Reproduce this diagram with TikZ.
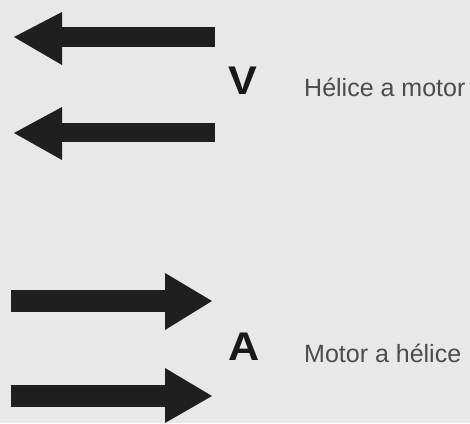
\documentclass[tikz,border=0pt]{standalone}
\usepackage{fontspec}
\setmainfont{Liberation Sans}
\begin{document}
\begin{tikzpicture}[x=1pt,y=-1pt,
  arr/.style={fill=black!88,draw=none},
  big/.style={font=\fontsize{40}{40}\selectfont\bfseries,text=black!90,inner sep=0pt,xscale=1.08,transform shape},
  lab/.style={font=\fontsize{25}{25}\selectfont,text=black!70,inner sep=0pt,anchor=base west}]
\fill[black!9] (0,0) rectangle (470,423);
\useasboundingbox (0,0) rectangle (470,423);
% left arrows
\fill[arr] (62,27) rectangle (215,47);
\fill[arr] (62,12) -- (14,37) -- (62,65) -- cycle;
\fill[arr] (62,123) rectangle (215,142);
\fill[arr] (62,107) -- (14,133) -- (62,160) -- cycle;
% right arrows
\fill[arr] (11,290) rectangle (165,312);
\fill[arr] (165,273) -- (212,301) -- (165,330) -- cycle;
\fill[arr] (11,385) rectangle (165,407);
\fill[arr] (165,368) -- (212,396) -- (165,423) -- cycle;
% labels
\node[big] (v) at (243,81) {V};
\node[lab] (t1) at (304,96) {Hélice a motor};
\node[big] (a) at (244,347) {A};
\node[lab] (t2) at (304,362) {Motor a hélice};
\end{tikzpicture}
\end{document}
